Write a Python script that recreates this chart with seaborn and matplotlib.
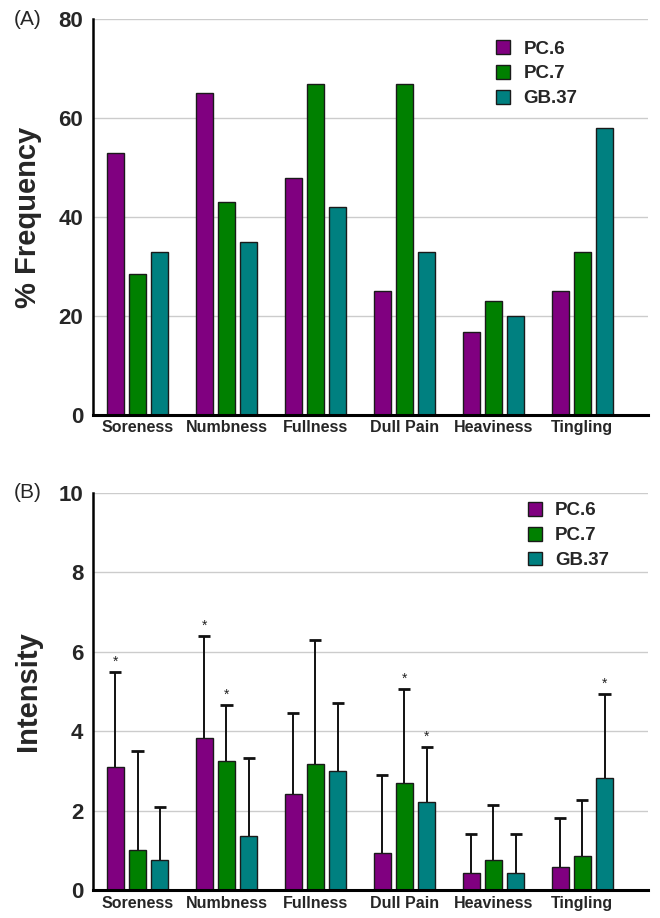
import numpy as np
import pandas as pd
import matplotlib
matplotlib.use("Agg")
import matplotlib.pyplot as plt
import seaborn as sns

categories = ["Soreness", "Numbness", "Fullness", "Dull Pain", "Heaviness", "Tingling"]
points = ["PC.6", "PC.7", "GB.37"]
colors = ["#800080", "#008000", "#008080"]

# (A) % frequency
freq_pc6 = [53, 65, 48, 25, 16.7, 25]
freq_pc7 = [28.5, 43, 67, 67, 23, 33]
freq_gb37 = [33, 35, 42, 33, 20, 58]

# (B) intensity mean and upper error (SD)
int_pc6 = [3.1, 3.83, 2.43, 0.92, 0.42, 0.58]
int_pc7 = [1.0, 3.25, 3.17, 2.7, 0.75, 0.85]
int_gb37 = [0.75, 1.35, 3.0, 2.22, 0.42, 2.83]
sd_pc6 = [2.4, 2.57, 2.02, 1.98, 1.0, 1.24]
sd_pc7 = [2.5, 1.42, 3.13, 2.37, 1.39, 1.42]
sd_gb37 = [1.35, 1.97, 1.72, 1.38, 1.0, 2.1]
# significance markers (True = *)
sig_pc6 = [True, True, False, False, False, False]
sig_pc7 = [False, True, False, True, False, False]
sig_gb37 = [False, False, False, True, False, True]


def long_frame(a, b, c):
    return pd.DataFrame({
        "category": categories * 3,
        "point": [p for p in points for _ in categories],
        "value": list(a) + list(b) + list(c),
    })


sns.set_style("white")
plt.rcParams["font.family"] = ["Liberation Sans", "DejaVu Sans"]

fig = plt.figure(figsize=(6.6, 9.18), dpi=100)
ax_a = fig.add_axes([0.141, 0.548, 0.841, 0.431])
ax_b = fig.add_axes([0.141, 0.0305, 0.841, 0.4325])


def style_axes(ax, ymax, step, ylabel, tag):
    ax.set_ylim(0, ymax)
    ax.set_xlim(-0.5, 5.74)
    ax.set_yticks(np.arange(0, ymax + 0.01, step))
    ax.yaxis.grid(True, color="#cccccc", linewidth=1)
    ax.set_axisbelow(True)
    for s in ["top", "right"]:
        ax.spines[s].set_visible(False)
    ax.spines["left"].set_linewidth(1.8)
    ax.spines["bottom"].set_linewidth(2.2)
    ax.spines["left"].set_color("black")
    ax.spines["bottom"].set_color("black")
    ax.tick_params(axis="both", length=0)
    ax.tick_params(axis="y", labelsize=16, pad=7)
    ax.tick_params(axis="x", labelsize=11.5, pad=4)
    for t in ax.get_yticklabels():
        t.set_fontweight("bold")
    for t in ax.get_xticklabels():
        t.set_fontweight("bold")
    ax.set_xlabel("")
    ax.set_ylabel(ylabel, fontsize=21, fontweight="bold", labelpad=12)
    ax.text(-0.142, 1.0, tag, transform=ax.transAxes, fontsize=15,
            ha="left", va="center")
    leg = ax.legend(frameon=False, handlelength=0.75, handleheight=0.75,
                    handletextpad=0.7, labelspacing=0.4,
                    prop={"weight": "bold", "size": 13.5})
    return leg


df_a = long_frame(freq_pc6, freq_pc7, freq_gb37)
sns.barplot(data=df_a, x="category", y="value", hue="point", palette=colors,
            hue_order=points, order=categories, width=0.75, gap=0.24,
            saturation=1, edgecolor="#1a1a1a", linewidth=1, errorbar=None,
            ax=ax_a)
leg = style_axes(ax_a, 80, 20, "% Frequency", "(A)")
leg.set_bbox_to_anchor((0.696, 0.99), transform=ax_a.transAxes)
leg._loc = 2

df_b = long_frame(int_pc6, int_pc7, int_gb37)
sns.barplot(data=df_b, x="category", y="value", hue="point", palette=colors,
            hue_order=points, order=categories, width=0.75, gap=0.24,
            saturation=1, edgecolor="#1a1a1a", linewidth=1, errorbar=None,
            ax=ax_b)
leg = style_axes(ax_b, 10, 2, "Intensity", "(B)")
leg.set_bbox_to_anchor((0.753, 1.02), transform=ax_b.transAxes)
leg._loc = 2

sds = [sd_pc6, sd_pc7, sd_gb37]
sigs = [sig_pc6, sig_pc7, sig_gb37]
cap = 0.068
for cont, sd, sig in zip(ax_b.containers, sds, sigs):
    for bar, e, s in zip(cont, sd, sig):
        x = bar.get_x() + bar.get_width() / 2
        h = bar.get_height()
        top = h + e
        ax_b.vlines(x, h, top, color="#111111", linewidth=1.4, zorder=3)
        ax_b.hlines(top, x - cap, x + cap, color="#111111", linewidth=2,
                    zorder=3)
        if s:
            ax_b.text(x, top + 0.08, "*", ha="center", va="bottom",
                      fontsize=10, color="#222222")

fig.savefig("out.png", dpi=100)
